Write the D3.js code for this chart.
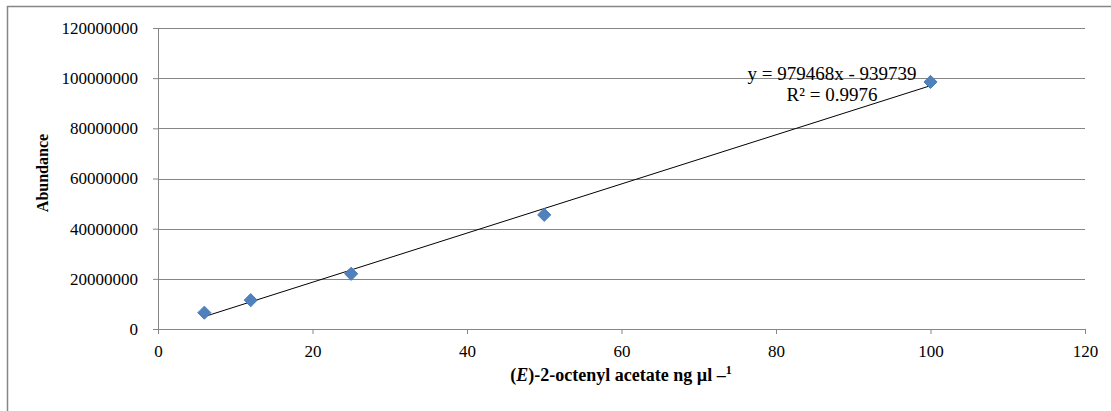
<!DOCTYPE html>
<html>
<head>
<meta charset="utf-8">
<script src="https://cdn.jsdelivr.net/npm/d3@7"></script>
<style>
  html, body { margin: 0; padding: 0; background: #fff; }
  svg { display: block; }
  svg text { font-family: "Liberation Serif", "Times New Roman", serif; }
</style>
</head>
<body>
<svg id="chart" width="1111" height="411"></svg>
<script>
// concentrations (ng/µl) and measured abundance
const concentrations = [6, 12, 25, 50, 100];
const abundance = [6500000, 11500000, 22000000, 45500000, 98500000];
const xTicks = [0, 20, 40, 60, 80, 100, 120];
const yTicks = [0, 20000000, 40000000, 60000000, 80000000, 100000000, 120000000];
const slope = 979468;
const intercept = -939739;
const equationLines = ["y = 979468x - 939739", "R² = 0.9976"];

const svg = d3.select("#chart");
const width = 1111, height = 411;
const margin = { top: 28, right: 26, bottom: 82, left: 158 };

// outer chart frame (cut off at right and bottom)
svg.append("rect")
  .attr("x", 7.5).attr("y", 6.5)
  .attr("width", 1120).attr("height", 420)
  .attr("fill", "none")
  .attr("stroke", "#868686")
  .attr("stroke-width", 1.5);

const x = d3.scaleLinear().domain([0, 120]).range([margin.left, width - margin.right]);
const y = d3.scaleLinear().domain([0, 120000000]).range([height - margin.bottom, margin.top]);

// horizontal gridlines
svg.append("g")
  .selectAll("line")
  .data(yTicks.filter(d => d > 0))
  .join("line")
  .attr("x1", x(0)).attr("x2", x(120))
  .attr("y1", d => Math.round(y(d)) + 0.5)
  .attr("y2", d => Math.round(y(d)) + 0.5)
  .attr("stroke", "#868686")
  .attr("stroke-width", 1);

// y axis
const yAxis = svg.append("g")
  .attr("transform", `translate(${x(0)},0)`)
  .call(d3.axisLeft(y).tickValues(yTicks).tickFormat(d3.format("d")).tickSize(5).tickPadding(15));

// x axis
const xAxis = svg.append("g")
  .attr("transform", `translate(0,${y(0)})`)
  .call(d3.axisBottom(x).tickValues(xTicks).tickSize(5).tickPadding(11));

[yAxis, xAxis].forEach(g => {
  g.attr("font-family", null);
  g.select(".domain").attr("stroke", "#868686");
  g.selectAll(".tick line").attr("stroke", "#868686");
  g.selectAll("text")
    .style("font-family", "'Liberation Serif', 'Times New Roman', serif")
    .style("font-size", "17px")
    .attr("fill", "#000");
});

// linear trendline
const fit = d => slope * d + intercept;
const xMin = d3.min(concentrations), xMax = d3.max(concentrations);
svg.append("line")
  .attr("x1", x(xMin)).attr("y1", y(fit(xMin)))
  .attr("x2", x(xMax)).attr("y2", y(fit(xMax)))
  .attr("stroke", "#000")
  .attr("stroke-width", 1);

// diamond markers
const diamond = d3.symbol().type(d3.symbolDiamond2).size(110);
svg.append("g")
  .selectAll("path")
  .data(concentrations.map((c, i) => ({ c, a: abundance[i] })))
  .join("path")
  .attr("d", diamond)
  .attr("transform", d => `translate(${x(d.c)},${y(d.a)})`)
  .attr("fill", "#4F81BD")
  .attr("stroke", "#4A7EBB")
  .attr("stroke-width", 1);

// equation label
svg.append("g")
  .selectAll("text")
  .data(equationLines)
  .join("text")
  .attr("x", 832)
  .attr("y", (d, i) => 80 + i * 21)
  .attr("text-anchor", "middle")
  .style("font-size", "19px")
  .attr("fill", "#000")
  .text(d => d);

// axis titles
svg.append("text")
  .attr("transform", `translate(48,${173}) rotate(-90)`)
  .attr("text-anchor", "middle")
  .style("font-size", "16px")
  .attr("font-weight", "bold")
  .text("Abundance");

const xTitle = svg.append("text")
  .attr("x", 621).attr("y", 381)
  .attr("text-anchor", "middle")
  .style("font-size", "18px")
  .attr("font-weight", "bold");
xTitle.append("tspan").text("(");
xTitle.append("tspan").attr("font-style", "italic").text("E");
xTitle.append("tspan").text(")-2-octenyl acetate ng µl –");
xTitle.append("tspan").style("font-size", "12px").attr("dy", -7).text("1");
</script>
</body>
</html>
